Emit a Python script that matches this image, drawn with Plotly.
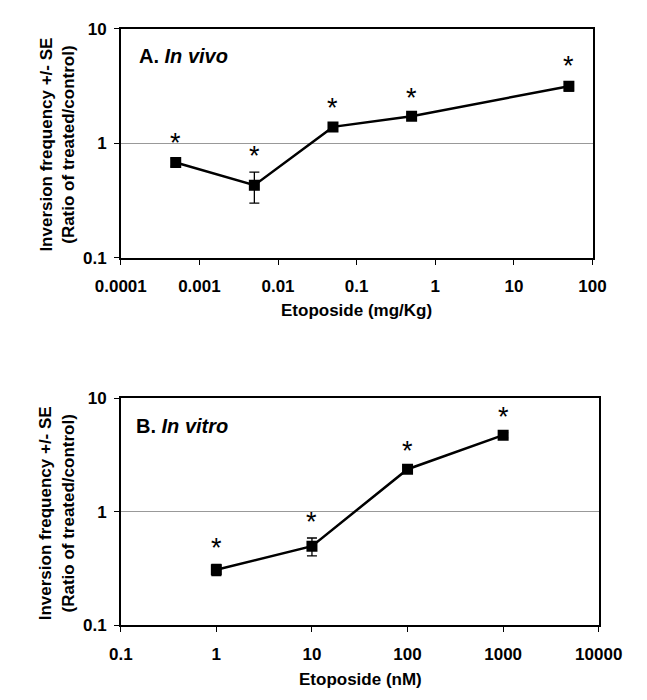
import math
import plotly.graph_objects as go

# ---- Panel A: In vivo ----
dose_vivo = [0.0005, 0.005, 0.05, 0.5, 50]
ratio_vivo = [0.68, 0.43, 1.39, 1.72, 3.15]
se_vivo = [0.05, 0.13, 0.08, 0.08, 0.30]
sig_vivo = [True, True, True, True, True]

# ---- Panel B: In vitro ----
dose_vitro = [1, 10, 100, 1000]
ratio_vitro = [0.31, 0.50, 2.38, 4.75]
se_vitro = [0.035, 0.09, 0.12, 0.25]
sig_vitro = [True, True, True, True]

y_ticks = [0.1, 1, 10]
y_ticktext = ["0.1", "1", "10"]
x_ticks_vivo = [0.0001, 0.001, 0.01, 0.1, 1, 10, 100]
x_ticktext_vivo = ["0.0001", "0.001", "0.01", "0.1", "1", "10", "100"]
x_ticks_vitro = [0.1, 1, 10, 100, 1000, 10000]
x_ticktext_vitro = ["0.1", "1", "10", "100", "1000", "10000"]

FONT = "Liberation Sans, Arial, sans-serif"
W, H = 647, 700
FS = 17

fig = go.Figure()


def add_series(x, y, e, xa, ya):
    fig.add_trace(go.Scatter(
        x=x, y=y, xaxis=xa, yaxis=ya, mode="lines+markers",
        line=dict(color="black", width=2.5),
        marker=dict(symbol="square", size=11, color="black"),
        error_y=dict(type="data", array=e, visible=True, color="black",
                     thickness=1.3, width=5),
        showlegend=False, hoverinfo="skip"))


add_series(dose_vivo, ratio_vivo, se_vivo, "x", "y")
add_series(dose_vitro, ratio_vitro, se_vitro, "x2", "y2")

annotations = []


def add_stars(xs, ys, es, sig, xr, yr):
    for x, y, e, s in zip(xs, ys, es, sig):
        if s:
            annotations.append(dict(
                x=math.log10(x), y=math.log10(y + e), xref=xr, yref=yr,
                text="*", showarrow=False, yanchor="bottom", yshift=-1,
                font=dict(family=FONT, size=27, color="black")))


add_stars(dose_vivo, ratio_vivo, se_vivo, sig_vivo, "x", "y")
add_stars(dose_vitro, ratio_vitro, se_vitro, sig_vitro, "x2", "y2")

# panel labels
annotations.append(dict(xref="paper", yref="paper", x=120 / W, y=1 - 48 / H,
                        xanchor="left", yanchor="middle", showarrow=False,
                        text="<b>A. <i>In vivo</i></b>",
                        font=dict(family=FONT, size=20, color="black")))
annotations.append(dict(xref="paper", yref="paper", x=117 / W, y=1 - 429 / H,
                        xanchor="left", yanchor="middle", showarrow=False,
                        text="<b>B. <i>In vitro</i></b>",
                        font=dict(family=FONT, size=20, color="black")))

# y-axis titles (two lines, rotated)
ytitle = "<b>Inversion frequency +/- SE<br>(Ratio of treated/control)</b>"
for yc in (139, 518):
    annotations.append(dict(xref="paper", yref="paper", x=34 / W, y=1 - yc / H,
                            xanchor="center", yanchor="middle", showarrow=False,
                            textangle=-90, text=ytitle,
                            font=dict(family=FONT, size=FS, color="black")))

# x-axis titles
annotations.append(dict(xref="paper", yref="paper", x=358 / W, y=1 - 310 / H,
                        xanchor="center", yanchor="middle", showarrow=False,
                        text="<b>Etoposide (mg/Kg)</b>",
                        font=dict(family=FONT, size=FS, color="black")))
annotations.append(dict(xref="paper", yref="paper", x=362 / W, y=1 - 689 / H,
                        xanchor="center", yanchor="middle", showarrow=False,
                        text="<b>Etoposide (nM)</b>",
                        font=dict(family=FONT, size=FS, color="black")))

tickfont = dict(family=FONT, size=FS, color="black", weight="bold")

common_x = dict(type="log", showline=True, linecolor="black", linewidth=1.5,
                mirror=True, ticks="outside", ticklen=5, tickwidth=1,
                tickcolor="black", showgrid=False, zeroline=False,
                tickfont=tickfont, ticklabelstandoff=7)
common_y = dict(type="log", showline=True, linecolor="black", linewidth=1.5,
                mirror=True, ticks="outside", ticklen=5, tickwidth=1,
                tickcolor="black", showgrid=True, gridcolor="#999999",
                gridwidth=1, zeroline=False, tickfont=tickfont,
                tickvals=y_ticks, ticktext=y_ticktext, range=[-1, 1],
                ticklabelstandoff=4)

fig.update_layout(
    width=W, height=H,
    margin=dict(l=0, r=0, t=0, b=0),
    paper_bgcolor="white", plot_bgcolor="white",
    xaxis=dict(common_x, domain=[102.7 / W, 614 / W], range=[-4, 2],
               tickvals=x_ticks_vivo, ticktext=x_ticktext_vivo, anchor="y"),
    yaxis=dict(common_y, domain=[1 - 255.7 / H, 1 - 20.3 / H], anchor="x"),
    xaxis2=dict(common_x, domain=[102.7 / W, 620.7 / W], range=[-1, 4],
                tickvals=x_ticks_vitro, ticktext=x_ticktext_vitro, anchor="y2"),
    yaxis2=dict(common_y, domain=[1 - 633.7 / H, 1 - 400.3 / H], anchor="x2"),
    annotations=annotations,
)

fig.write_html("out.html")
